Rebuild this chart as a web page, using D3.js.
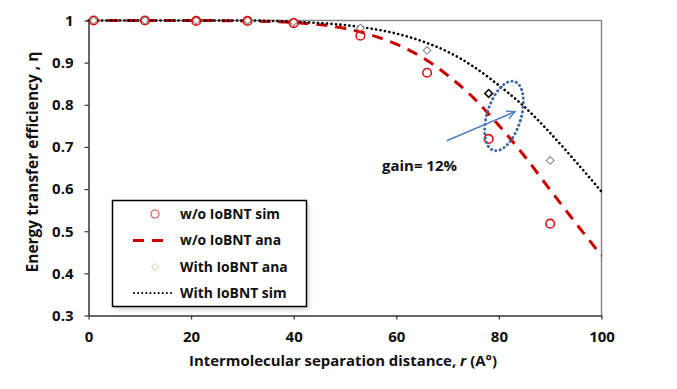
<!DOCTYPE html>
<html><head><meta charset="utf-8">
<script src="https://cdn.jsdelivr.net/npm/d3@7"></script>
<style>body{margin:0;background:#fff}</style>
</head><body>
<svg id="c" width="677" height="389"></svg>
<script>
// Data
const xTicks = [0, 20, 40, 60, 80, 100];
const yTicks = [0.3, 0.4, 0.5, 0.6, 0.7, 0.8, 0.9, 1];
const yTickLabels = ["0.3", "0.4", "0.5", "0.6", "0.7", "0.8", "0.9", "1"];

const simR = [1, 11, 21, 31, 40, 53, 66, 78, 90];
const woSim = [1.0, 1.0, 0.999, 0.999, 0.994, 0.964, 0.876, 0.719, 0.518];
const withAna = [1.0, 1.0, 1.0, 1.0, 0.997, 0.982, 0.929, 0.827, 0.668];

const curveR = [0, 10, 20, 30, 40, 50, 55, 60, 65, 70, 75, 80, 85, 90, 95, 100];
const woAna = [1.0, 1.0, 1.0, 0.999, 0.995, 0.981, 0.966, 0.944, 0.913, 0.870, 0.817, 0.751, 0.678, 0.598, 0.519, 0.442];
const withSim = [1.0, 1.0, 1.0, 1.0, 0.997, 0.989, 0.981, 0.969, 0.951, 0.926, 0.891, 0.846, 0.795, 0.733, 0.665, 0.594];

const legendLabels = ["w/o IoBNT sim", "w/o IoBNT ana", "With IoBNT ana", "With IoBNT sim"];

const svg = d3.select("#c");
const x = d3.scaleLinear().domain([0, 100]).range([88.5, 601.5]);
const y = d3.scaleLinear().domain([0.3, 1]).range([315.5, 20.5]);
const font = "'Open Sans', Lato, sans-serif";

// scale a text's font size so it spans the measured width of the reference
function fit(sel, target) {
  const fs = parseFloat(sel.attr("font-size"));
  const w = sel.node().getComputedTextLength();
  if (w > 0) sel.attr("font-size", (fs * target / w).toFixed(2));
}

// frame (top/right)
svg.append("path")
  .attr("d", `M${x(0)},${y(1)}H${x(100)}V${y(0.3)}`)
  .attr("fill", "none").attr("stroke", "#888").attr("stroke-width", 1.5);

// axes
const xa = svg.append("g").attr("transform", `translate(0,${y(0.3)})`)
  .call(d3.axisBottom(x).tickValues(xTicks).tickSize(4).tickSizeOuter(0).tickFormat(d3.format("d")));
const ya = svg.append("g").attr("transform", `translate(${x(0)},0)`)
  .call(d3.axisLeft(y).tickValues(yTicks).tickSize(4).tickSizeOuter(0).tickFormat((d, i) => yTickLabels[i]));
[xa, ya].forEach(a => {
  a.select(".domain").attr("stroke", "#333").attr("stroke-width", 1.5);
  a.selectAll(".tick line").attr("stroke", "#333").attr("stroke-width", 1.2);
  a.selectAll("text").attr("font-family", font).attr("font-weight", "bold")
    .attr("font-size", 15).attr("fill", "#111");
});
xa.selectAll("text").attr("dy", "1.3em");
ya.selectAll("text").attr("dx", "-8px");

// curves
const line = d3.line().x(d => x(d[0])).y(d => y(d[1])).curve(d3.curveMonotoneX);
svg.append("path").datum(curveR.map((r, i) => [r, woAna[i]]))
  .attr("d", line).attr("fill", "none").attr("stroke", "#CC0000")
  .attr("stroke-width", 3).attr("stroke-dasharray", "11,8");
svg.append("path").datum(curveR.map((r, i) => [r, withSim[i]]))
  .attr("d", line).attr("fill", "none").attr("stroke", "#000")
  .attr("stroke-width", 2.6).attr("stroke-dasharray", "0.1,4.4").attr("stroke-linecap", "round");

// diamonds
const diamond = d3.symbol().type(d3.symbolDiamond2).size(38);
svg.selectAll(".dia").data(simR.map((r, i) => [r, withAna[i], i])).join("path")
  .attr("d", diamond)
  .attr("transform", d => `translate(${x(d[0])},${y(d[1])})`)
  .attr("fill", "#fff")
  .attr("stroke", d => d[0] === 78 ? "#111" : "#888")
  .attr("stroke-width", d => d[0] === 78 ? 1.6 : 1.1);

// circles
svg.selectAll(".cir").data(simR.map((r, i) => [r, woSim[i]])).join("circle")
  .attr("cx", d => x(d[0])).attr("cy", d => y(d[1])).attr("r", 4.3)
  .attr("fill", "none").attr("stroke", "#DD1111").attr("stroke-width", 1.6);

// annotation ellipse
svg.append("ellipse").attr("cx", 0).attr("cy", 0).attr("rx", 17).attr("ry", 36)
  .attr("transform", "translate(504,116) rotate(17)")
  .attr("fill", "none").attr("stroke", "#3A6AA8").attr("stroke-width", 3)
  .attr("stroke-dasharray", "0.1,4.4").attr("stroke-linecap", "round");

// arrow
const ax0 = 446.7, ay0 = 140.7, ax1 = 515, ay1 = 111.7;
const ang = Math.atan2(ay1 - ay0, ax1 - ax0);
svg.append("line").attr("x1", ax0).attr("y1", ay0).attr("x2", ax1).attr("y2", ay1)
  .attr("stroke", "#4F81C4").attr("stroke-width", 1.5);
const hl = 9, ha = 0.45;
svg.append("path")
  .attr("d", `M${ax1 - hl * Math.cos(ang - ha)},${ay1 - hl * Math.sin(ang - ha)}L${ax1},${ay1}L${ax1 - hl * Math.cos(ang + ha)},${ay1 - hl * Math.sin(ang + ha)}`)
  .attr("fill", "none").attr("stroke", "#4F81C4").attr("stroke-width", 1.5);

const gain = svg.append("text").attr("x", 382).attr("y", 171).text("gain= 12%")
  .attr("font-family", font).attr("font-weight", "bold").attr("font-size", 14).attr("fill", "#111");
fit(gain, 75);

// legend
const lg = svg.append("g");
lg.append("rect").attr("x", 115).attr("y", 203).attr("width", 194).attr("height", 107)
  .attr("fill", "#bbb").attr("opacity", 0.6).attr("filter", "blur(2px)");
lg.append("rect").attr("x", 112.5).attr("y", 200.5).attr("width", 194).attr("height", 106)
  .attr("fill", "#fff").attr("stroke", "#000").attr("stroke-width", 1.5);
const ly = [214, 240.5, 267, 293];
const lt = [];
legendLabels.forEach((t, i) => {
  lt.push(lg.append("text").attr("x", 180).attr("y", ly[i]).attr("dy", "0.35em").text(t)
    .attr("font-family", font).attr("font-weight", "bold").attr("font-size", 13.5).attr("fill", "#111"));
});
fit(lt[0], 100);
lt.slice(1).forEach(s => s.attr("font-size", lt[0].attr("font-size")));
lg.append("circle").attr("cx", 155).attr("cy", ly[0]).attr("r", 4)
  .attr("fill", "none").attr("stroke", "#E04040").attr("stroke-width", 1.1);
lg.append("line").attr("x1", 133).attr("x2", 168).attr("y1", ly[1]).attr("y2", ly[1])
  .attr("stroke", "#CC0000").attr("stroke-width", 3).attr("stroke-dasharray", "11,8");
lg.append("path").attr("d", d3.symbol().type(d3.symbolDiamond2).size(32))
  .attr("transform", `translate(155,${ly[2]})`).attr("fill", "none").attr("stroke", "#C8C890").attr("stroke-width", 1);
lg.append("line").attr("x1", 134).attr("x2", 173).attr("y1", ly[3]).attr("y2", ly[3])
  .attr("stroke", "#000").attr("stroke-width", 2).attr("stroke-dasharray", "0.1,4").attr("stroke-linecap", "round");

// axis titles
const xt = svg.append("text").attr("x", 343).attr("y", 366).attr("text-anchor", "middle")
  .attr("font-family", font).attr("font-weight", "bold").attr("font-size", 14).attr("fill", "#111");
xt.append("tspan").text("Intermolecular separation distance, ");
xt.append("tspan").attr("font-style", "italic").text("r");
xt.append("tspan").text(" (A°)");
fit(xt, 308);

const yt = svg.append("text").attr("transform", "translate(38,162) rotate(-90)").attr("text-anchor", "middle")
  .attr("font-family", font).attr("font-weight", "bold").attr("font-size", 13.5).attr("fill", "#111")
  .text("Energy transfer efficiency , η");
fit(yt, 221);
</script>
</body></html>
